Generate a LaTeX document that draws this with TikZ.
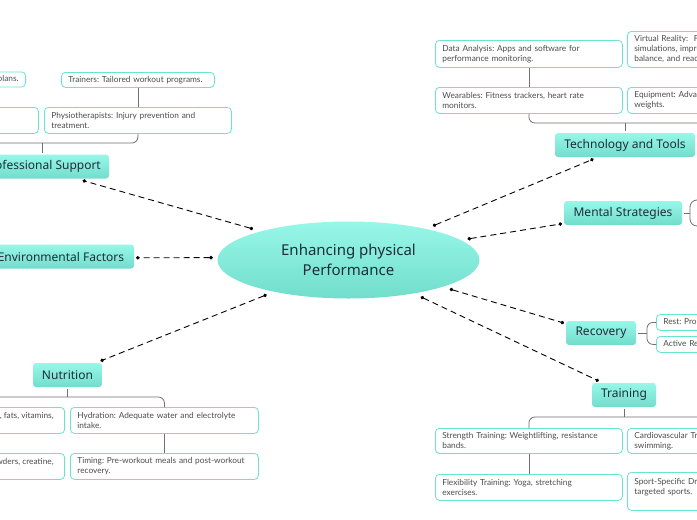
\documentclass[tikz,border=0pt]{standalone}
\usepackage{fontspec}
\usetikzlibrary{shapes.geometric,arrows.meta}
\newfontfamily\mainf{Noto Sans}
\newfontfamily\subf{Lato}
\frenchspacing
\definecolor{subborder}{HTML}{6BE3D2}
\definecolor{subtext}{HTML}{4D4D4D}
\definecolor{maintop}{HTML}{97F7E8}
\definecolor{mainbot}{HTML}{72DDCC}
\definecolor{treeline}{HTML}{707070}
\definecolor{maintext}{HTML}{1F2D3D}
\tikzset{
  topic/.style={rounded corners=3pt, top color=maintop, bottom color=mainbot, draw=none,
    inner sep=0pt, outer sep=2pt, minimum height=24pt, text=maintext,
    font=\mainf\fontsize{12}{14}\selectfont},
  sub/.style={draw=subborder, line width=0.8pt, rounded corners=4pt, fill=white,
    text=subtext, align=left, inner xsep=7pt, inner ysep=3pt,
    font=\subf\frenchspacing\fontsize{8.3}{10}\selectfont},
  subnw/.style={sub, anchor=north west},
  tree/.style={draw=treeline, line width=0.8pt},
  link/.style={draw=black, line width=0.9pt, dash pattern=on 6pt off 4pt,
    {Circle[length=3.5pt]}-{Circle[length=3.5pt]}}
}
\begin{document}
\begin{tikzpicture}[x=1pt,y=-1pt]
\useasboundingbox (0,0) rectangle (697,520);
\clip (0,0) rectangle (697,520);
\fill[white] (0,0) rectangle (697,520);

% central
\node[ellipse, minimum width=262pt, minimum height=77pt, inner sep=0pt, outer sep=5pt,
  top color=maintop, bottom color=mainbot, align=center, text=maintext,
  font=\mainf\fontsize{15}{20}\selectfont] (ctr) at (348.5,260) {Enhancing physical\\Performance};

% main topics
\node[topic, minimum width=134pt] (prof) at (42,166.5) {Professional Support};
\node[topic, minimum width=146pt] (env) at (61,256.5) {Environmental Factors};
\node[topic, minimum width=69pt] (nut) at (67.5,375) {Nutrition};
\node[topic, minimum width=140pt] (tech) at (625,145) {Technology and Tools};
\node[topic, minimum width=118pt] (ment) at (623,213) {Mental Strategies};
\node[topic, minimum width=70pt] (rec) at (601,333) {Recovery};
\node[topic, minimum width=64pt] (train) at (624,395) {Training};

% connectors
\draw[link] (ctr.162) -- (prof.-19);
\draw[link] (ctr.179) -- (env.-1);
\draw[link] (ctr.-157) -- (nut.23);
\draw[link] (ctr.22) -- (tech.-156);
\draw[link] (ctr.10) -- (ment.-170);
\draw[link] (ctr.-16) -- (rec.165);
\draw[link] (ctr.-27) -- (train.151);

% Professional Support subtopics
\node[sub, anchor=east, minimum height=15pt] (p1) at (26,79.5) {Nutritionists: Personalized meal plans.};
\node[subnw, minimum width=153pt, minimum height=15pt, text width=139pt] (p2) at (61,72) {Trainers: Tailored workout programs.};
\node[subnw, minimum width=188pt, minimum height=26pt] (p3) at (-150,107) {};
\node[subnw, minimum width=187pt, minimum height=26pt, text width=173pt] (p4) at (44,107) {Physiotherapists: Injury prevention and\\treatment.};
\coordinate (yP) at (0,143);
\draw[tree] (prof.north) -- (prof.north |- yP);
\draw[tree, rounded corners=6pt] (p3.south) -- (p3.south |- yP) -- (p4.south |- yP) -- (p4.south);
\draw[tree] (p2.south) -- (p4.north);

% Technology subtopics
\node[subnw, minimum width=187pt, minimum height=27pt, text width=173pt] (da) at (435,40) {Data Analysis: Apps and software for\\performance monitoring.};
\node[subnw, minimum width=187pt, minimum height=26pt, text width=173pt] (we) at (435,87) {Wearables: Fitness trackers, heart rate\\monitors.};
\node[subnw, minimum width=200pt, minimum height=36pt, text width=186pt] (vr) at (627,31) {Virtual Reality:\ \ Fully immersive\\simulations, improve coordination,\\balance, and reaction time.};
\node[subnw, minimum width=200pt, minimum height=26pt, text width=186pt] (eq) at (627,87) {Equipment: Advanced gear, resistance\\weights.};
\coordinate (yT) at (0,123);
\draw[tree] (tech.north) -- (tech.north |- yT);
\draw[tree, rounded corners=6pt] (we.south) -- (we.south |- yT) -- (eq.south |- yT) -- (eq.south);
\draw[tree] (da.south) -- (we.north);
\draw[tree] (vr.south) -- (eq.north);

% Mental Strategies bracket
\coordinate (mtop) at (700,200);
\coordinate (mbot) at (700,226);
\coordinate (mj) at (690,213);
\draw[tree] (ment.east) -- (mj);
\draw[tree, rounded corners=7pt] (mtop) -- (mtop -| mj) -- (mbot -| mj) -- (mbot);

% Recovery subtopics
\node[subnw, minimum width=150pt, minimum height=16pt, text width=136pt] (rest) at (656,314) {Rest: Proper sleep and rest days.};
\node[subnw, minimum width=150pt, minimum height=16pt, text width=136pt] (act) at (656,336) {Active Recovery: Light exercise.};
\coordinate (rj) at (647,333);
\draw[tree] (rec.east) -- (rj);
\draw[tree, rounded corners=6pt] (rest.west) -- (rest.west -| rj) -- (act.west -| rj) -- (act.west);

% Training subtopics
\node[subnw, minimum width=187pt, minimum height=25pt, text width=173pt] (st) at (435,428) {Strength Training: Weightlifting, resistance\\bands.};
\node[subnw, minimum width=187pt, minimum height=26pt, text width=173pt] (fl) at (435,474) {Flexibility Training: Yoga, stretching\\exercises.};
\node[subnw, minimum width=200pt, minimum height=25pt, text width=186pt] (ca) at (627,428) {Cardiovascular Training: Running, cycling,\\swimming.};
\node[subnw, minimum width=200pt, minimum height=38pt, text width=186pt] (sp) at (627,472) {Sport-Specific Drills: Skills for\\targeted sports.\\~};
\coordinate (yR) at (0,417);
\draw[tree] (train.south) -- (train.south |- yR);
\draw[tree, rounded corners=6pt] (st.north) -- (st.north |- yR) -- (ca.north |- yR) -- (ca.north);
\draw[tree] (st.south) -- (fl.north);
\draw[tree] (ca.south) -- (sp.north);

% Nutrition subtopics
\node[sub, anchor=north east, minimum height=26pt] (n1) at (65,407) {Balanced Diet: Proteins, carbs, fats, vitamins,\hspace*{4pt}\\~};
\node[sub, anchor=north east, minimum height=26pt] (n2) at (65,453) {Supplements: Protein powders, creatine,\hspace*{4pt}\\~};
\node[subnw, minimum width=188pt, minimum height=26pt, text width=174pt] (hy) at (70,407) {Hydration: Adequate water and electrolyte\\intake.};
\node[subnw, minimum width=188pt, minimum height=26pt, text width=174pt] (ti) at (70,453) {Timing: Pre-workout meals and post-workout\\recovery.};
\coordinate (yN) at (0,397);
\draw[tree] (nut.south) -- (nut.south |- yN);
\draw[tree, rounded corners=6pt] (n1.north) -- (n1.north |- yN) -- (hy.north |- yN) -- (hy.north);
\draw[tree] (n1.south) -- (n2.north);
\draw[tree] (hy.south) -- (ti.north);
\end{tikzpicture}
\end{document}
